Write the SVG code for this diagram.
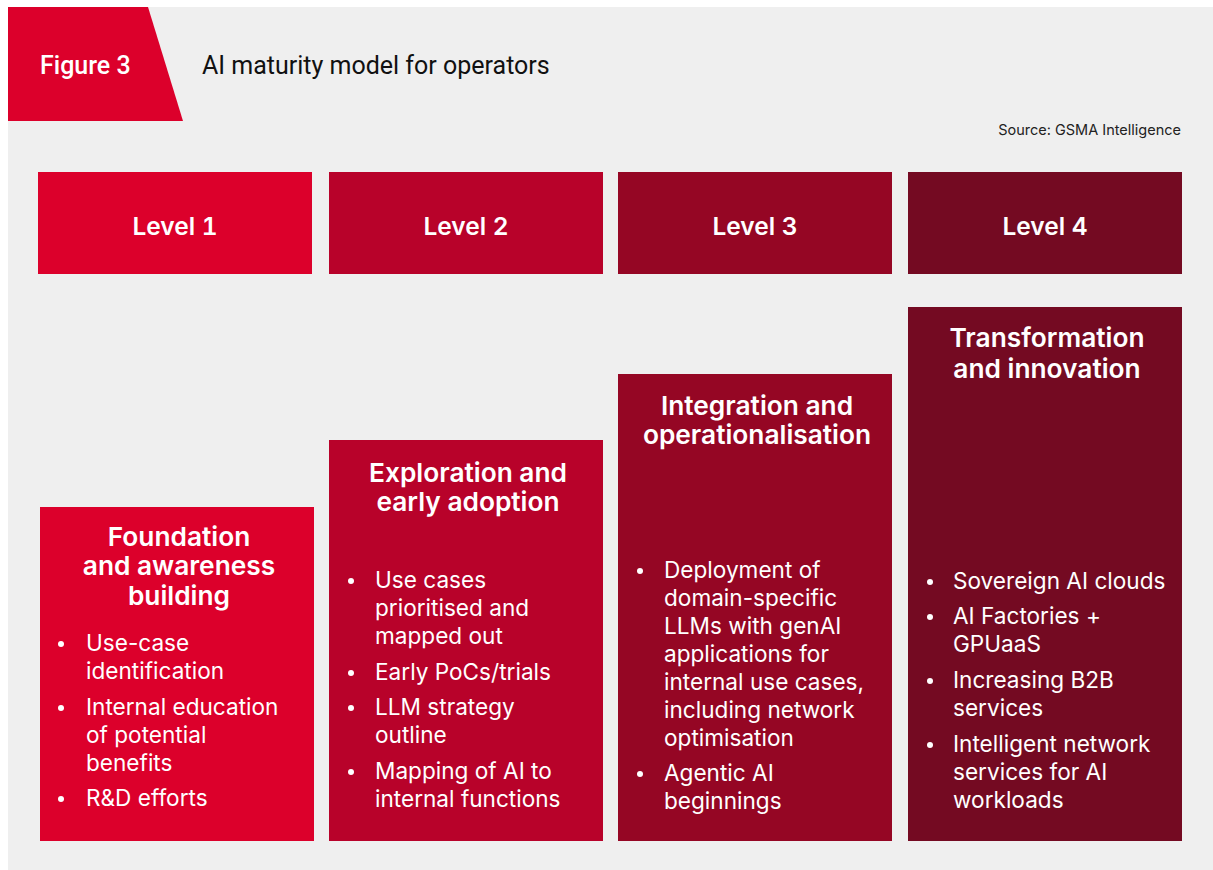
<svg xmlns="http://www.w3.org/2000/svg" width="1213" height="870" viewBox="0 0 1213 870">
  <style>
    .head { font-family: Roboto, "Liberation Sans", sans-serif; }
    .fig { font-size: 25px; font-weight: 500; fill: #ffffff; }
    .ttl { font-size: 25px; font-weight: 400; fill: #111111; }
    .src { font-family: Inter, "Liberation Sans", sans-serif; font-size: 14.5px; fill: #222222; }
    .lvl { font-family: Inter, "Liberation Sans", sans-serif; font-size: 24.5px; font-weight: 600; fill: #ffffff; text-anchor: middle; font-variant-numeric: tabular-nums; }
    .stage { font-family: Inter, "Liberation Sans", sans-serif; font-size: 26.3px; font-weight: 600; fill: #ffffff; text-anchor: middle; }
    .item { font-family: Inter, "Liberation Sans", sans-serif; font-size: 22.6px; font-weight: 400; fill: #ffffff; }
    .dot { fill: #ffffff; }
    .c1 { fill: #dc002b; }
    .c2 { fill: #b8022a; }
    .c3 { fill: #950624; }
    .c4 { fill: #740a22; }
  </style>

  <!-- panel background -->
  <rect x="8" y="7" width="1205" height="863" fill="#efefef"/>

  <!-- figure tab and heading -->
  <g id="header">
    <polygon points="8,7 148,7 183,121 8,121" class="c1"/>
    <text x="40" y="74" class="head fig">Figure 3</text>
    <text x="202" y="74" class="head ttl">AI maturity model for operators</text>
    <text x="1181" y="135" class="src" text-anchor="end">Source: GSMA Intelligence</text>
  </g>

  <!-- level headers -->
  <g id="level-1">
    <rect x="38" y="172" width="274" height="102" class="c1"/>
    <text x="175" y="235" class="lvl">Level 1</text>
  </g>
  <g id="level-2">
    <rect x="329" y="172" width="274" height="102" class="c2"/>
    <text x="466" y="235" class="lvl">Level 2</text>
  </g>
  <g id="level-3">
    <rect x="618" y="172" width="274" height="102" class="c3"/>
    <text x="755" y="235" class="lvl">Level 3</text>
  </g>
  <g id="level-4">
    <rect x="908" y="172" width="274" height="102" class="c4"/>
    <text x="1045" y="235" class="lvl">Level 4</text>
  </g>

  <!-- stage columns -->
  <g id="stage-1">
    <rect x="40" y="507" width="274" height="334" class="c1"/>
    <text class="stage" x="179" y="545.5">Foundation<tspan x="179" dy="29.5">and awareness</tspan><tspan x="179" dy="29.5">building</tspan></text>
    <circle class="dot" cx="61" cy="644" r="3"/>
    <text class="item" x="86" y="651">Use-case</text>
    <text class="item" x="86" y="679">identification</text>
    <circle class="dot" cx="61" cy="708" r="3"/>
    <text class="item" x="86" y="715">Internal education</text>
    <text class="item" x="86" y="743">of potential</text>
    <text class="item" x="86" y="771">benefits</text>
    <circle class="dot" cx="61" cy="799" r="3"/>
    <text class="item" x="86" y="806">R&amp;D efforts</text>
  </g>

  <g id="stage-2">
    <rect x="329" y="440" width="274" height="401" class="c2"/>
    <text class="stage" x="468" y="481.5">Exploration and<tspan x="468" dy="29.5">early adoption</tspan></text>
    <circle class="dot" cx="351" cy="581" r="3"/>
    <text class="item" x="375" y="588">Use cases</text>
    <text class="item" x="375" y="616">prioritised and</text>
    <text class="item" x="375" y="644">mapped out</text>
    <circle class="dot" cx="351" cy="673" r="3"/>
    <text class="item" x="375" y="680">Early PoCs/trials</text>
    <circle class="dot" cx="351" cy="708" r="3"/>
    <text class="item" x="375" y="715">LLM strategy</text>
    <text class="item" x="375" y="743">outline</text>
    <circle class="dot" cx="351" cy="772" r="3"/>
    <text class="item" x="375" y="779">Mapping of AI to</text>
    <text class="item" x="375" y="807">internal functions</text>
  </g>

  <g id="stage-3">
    <rect x="618" y="374" width="274" height="467" class="c3"/>
    <text class="stage" x="757" y="414.5">Integration and<tspan x="757" dy="29.5">operationalisation</tspan></text>
    <circle class="dot" cx="640" cy="571" r="3"/>
    <text class="item" x="664" y="578">Deployment of</text>
    <text class="item" x="664" y="606">domain-specific</text>
    <text class="item" x="664" y="634">LLMs with genAI</text>
    <text class="item" x="664" y="662">applications for</text>
    <text class="item" x="664" y="690">internal use cases,</text>
    <text class="item" x="664" y="718">including network</text>
    <text class="item" x="664" y="746">optimisation</text>
    <circle class="dot" cx="640" cy="774" r="3"/>
    <text class="item" x="664" y="781">Agentic AI</text>
    <text class="item" x="664" y="809">beginnings</text>
  </g>

  <g id="stage-4">
    <rect x="908" y="307" width="274" height="534" class="c4"/>
    <text class="stage" x="1047" y="347">Transformation<tspan x="1047" dy="31">and innovation</tspan></text>
    <circle class="dot" cx="930" cy="582" r="3"/>
    <text class="item" x="953" y="589">Sovereign AI clouds</text>
    <circle class="dot" cx="930" cy="617" r="3"/>
    <text class="item" x="953" y="624">AI Factories +</text>
    <text class="item" x="953" y="652">GPUaaS</text>
    <circle class="dot" cx="930" cy="681" r="3"/>
    <text class="item" x="953" y="688">Increasing B2B</text>
    <text class="item" x="953" y="716">services</text>
    <circle class="dot" cx="930" cy="745" r="3"/>
    <text class="item" x="953" y="752">Intelligent network</text>
    <text class="item" x="953" y="780">services for AI</text>
    <text class="item" x="953" y="808">workloads</text>
  </g>

  <!-- columns stand side by side; no connectors are drawn -->
  <g id="connectors"/>
</svg>
